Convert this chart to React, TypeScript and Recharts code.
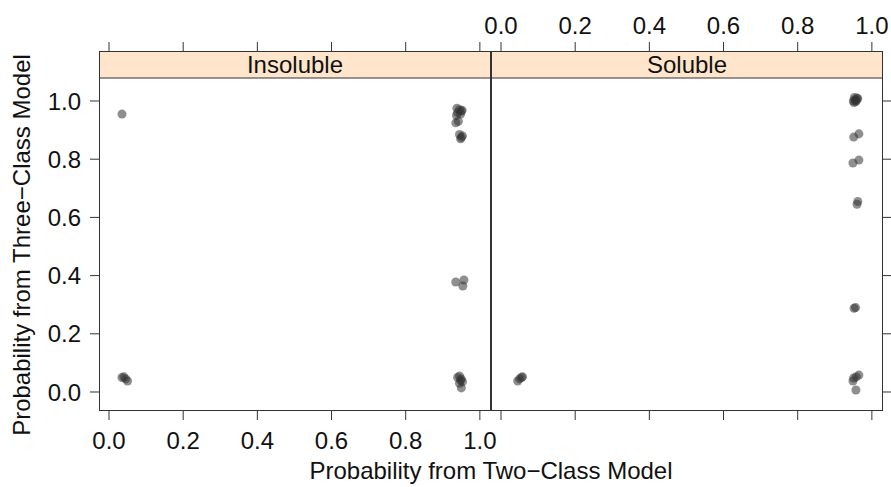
import { Scatter, ScatterChart, XAxis, YAxis } from 'recharts'

const xTicks = [0, 0.2, 0.4, 0.6, 0.8, 1.0]
const yTicks = [0, 0.2, 0.4, 0.6, 0.8, 1.0]
const panelNames = ['Insoluble', 'Soluble']

// Insoluble panel: two-class vs three-class probabilities
const insolubleTwoClass = [
  0.035,
  0.035, 0.04, 0.045, 0.05,
  0.938, 0.945, 0.95, 0.94, 0.948, 0.952, 0.937, 0.942, 0.935,
  0.945, 0.95, 0.948, 0.953,
  0.935, 0.957, 0.954,
  0.94, 0.945, 0.95, 0.948, 0.953, 0.945, 0.95,
]
const insolubleThreeClass = [
  0.955,
  0.05, 0.052, 0.045, 0.038,
  0.975, 0.97, 0.965, 0.96, 0.955, 0.968, 0.95, 0.93, 0.925,
  0.885, 0.875, 0.87, 0.88,
  0.378, 0.385, 0.364,
  0.05, 0.055, 0.045, 0.04, 0.035, 0.03, 0.014,
]

// Soluble panel
const solubleTwoClass = [
  0.05, 0.055, 0.045, 0.058,
  0.95, 0.955, 0.96, 0.952, 0.958, 0.962, 0.953, 0.957,
  0.951, 0.965,
  0.949, 0.965,
  0.96, 0.962,
  0.952, 0.956,
  0.951, 0.965, 0.958, 0.949, 0.957,
]
const solubleThreeClass = [
  0.045, 0.05, 0.038, 0.052,
  1.0, 1.005, 1.01, 0.995, 1.002, 1.008, 1.012, 0.998,
  0.876, 0.887,
  0.787, 0.797,
  0.645, 0.655,
  0.288, 0.29,
  0.048, 0.058, 0.052, 0.038, 0.007,
]

const toPoints = (xs: number[], ys: number[]) => xs.map((two, i) => ({ two, three: ys[i] }))
const panels = [
  toPoints(insolubleTwoClass, insolubleThreeClass),
  toPoints(solubleTwoClass, solubleThreeClass),
]

const FONT = "'Liberation Sans', Arial, Helvetica, sans-serif"
const X_DOMAIN: [number, number] = [-0.027, 1.03]
const Y_DOMAIN: [number, number] = [-0.0653, 1.1718]
const fmt = (v: number) => v.toFixed(1)
const blank = () => ''
const tickStyle = { fill: '#111', fontSize: 24, fontFamily: FONT }
const lineStyle = { stroke: '#333' }

function Panel({ index }: { index: number }) {
  const first = index === 0
  const margin = first
    ? { top: 21, right: 400, bottom: 36, left: 39 }
    : { top: 21, right: 0, bottom: 36, left: 491 }
  return (
    <ScatterChart
      width={891}
      height={487}
      margin={margin}
      style={{ position: 'absolute', left: 0, top: 0 }}
    >
      <XAxis
        xAxisId="bottom"
        orientation="bottom"
        type="number"
        dataKey="two"
        domain={X_DOMAIN}
        ticks={xTicks}
        allowDataOverflow
        height={40}
        tickSize={9}
        tickMargin={12}
        axisLine={false}
        tickLine={lineStyle}
        tick={tickStyle}
        tickFormatter={first ? fmt : blank}
      />
      <XAxis
        xAxisId="top"
        orientation="top"
        type="number"
        dataKey="two"
        domain={X_DOMAIN}
        ticks={xTicks}
        allowDataOverflow
        height={30}
        tickSize={9}
        tickMargin={8}
        axisLine={false}
        tickLine={lineStyle}
        tick={tickStyle}
        tickFormatter={first ? blank : fmt}
      />
      <YAxis
        yAxisId="y"
        orientation={first ? 'left' : 'right'}
        type="number"
        dataKey="three"
        domain={Y_DOMAIN}
        ticks={yTicks}
        allowDataOverflow
        width={first ? 60 : 8}
        tickSize={9}
        tickMargin={9}
        axisLine={false}
        tickLine={lineStyle}
        tick={tickStyle}
        tickFormatter={first ? fmt : blank}
      />
      <Scatter
        data={panels[index]}
        xAxisId="bottom"
        yAxisId="y"
        fill="#333"
        fillOpacity={0.55}
        isAnimationActive={false}
      />
    </ScatterChart>
  )
}

export default function App() {
  return (
    <div style={{ position: 'absolute', left: 0, top: 0, width: 891, height: 487, background: '#fff' }}>
      <svg width={891} height={487} style={{ position: 'absolute', left: 0, top: 0 }} fontFamily={FONT}>
        {panelNames.map((name, i) => {
          const left = i === 0 ? 99 : 491
          const right = i === 0 ? 491 : 883
          return (
            <g key={name}>
              <rect x={left + 0.5} y={51.5} width={right - left - 1} height={26.5} fill="#ffe5cc" stroke="#333" />
              <rect x={left + 0.5} y={51.5} width={right - left - 1} height={359} fill="none" stroke="#333" />
              <text x={(left + right) / 2} y={73} textAnchor="middle" fontSize={24} fill="#111">
                {name}
              </text>
            </g>
          )
        })}
        <text x={491} y={479} textAnchor="middle" fontSize={24} fill="#111">
          Probability from Two−Class Model
        </text>
        <text transform="translate(30,245) rotate(-90)" textAnchor="middle" fontSize={24} fill="#111">
          Probability from Three−Class Model
        </text>
      </svg>
      <Panel index={0} />
      <Panel index={1} />
    </div>
  )
}
